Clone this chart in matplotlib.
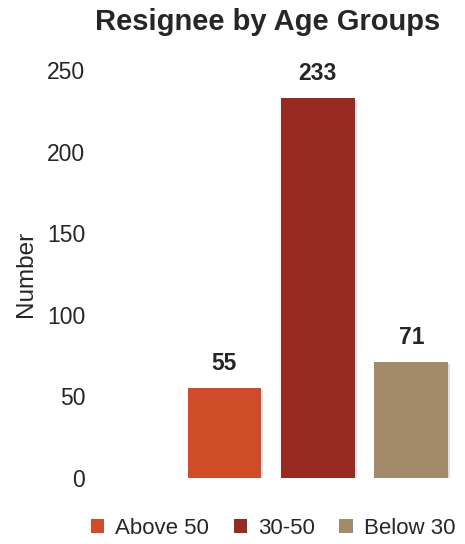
import matplotlib.pyplot as plt
import matplotlib.patheffects as pe
from matplotlib.patches import Patch

plt.rcParams['font.family'] = ['Liberation Sans', 'DejaVu Sans']
plt.rcParams['text.color'] = '#262626'
plt.rcParams['axes.labelcolor'] = '#262626'
plt.rcParams['ytick.color'] = '#262626'

groups = ['Above 50', '30-50', 'Below 30']
counts = [55, 233, 71]
colors = ['#D04B27', '#992A22', '#A38A69']
positions = [1, 2, 3]

fig = plt.figure(figsize=(4.65, 5.44), dpi=100)
ax = fig.add_axes([95/465, 66/544, 365/465, 408/544])

bars = ax.bar(positions, counts, width=0.79, color=colors)
for b in bars:
    b.set_path_effects([pe.SimplePatchShadow(offset=(1.5, -1.5), alpha=0.25, shadow_rgbFace='gray'), pe.Normal()])

# value labels above bars
for p, c in zip(positions, counts):
    ax.text(p, c + 8, str(c), ha='center', va='bottom', fontsize=16.5, fontweight='bold')

ax.set_xlim(-0.385, 3.52)
ax.set_ylim(0, 250)
ax.set_yticks([0, 50, 100, 150, 200, 250])
ax.set_xticks([])
ax.tick_params(axis='y', length=0, labelsize=16.5, pad=7)
for s in ax.spines.values():
    s.set_visible(False)
ax.set_ylabel('Number', fontsize=17.5)
ax.yaxis.set_label_coords(-0.16, 0.5)

fig.text(268/465, 1 - 22/544, 'Resignee by Age Groups', ha='center', va='center',
         fontsize=21, fontweight='bold')

handles = [Patch(facecolor=c, edgecolor='none') for c in colors]
fig.legend(handles, groups, loc='center', bbox_to_anchor=(273/465, 1 - 528/544), ncol=3,
           frameon=False, fontsize=16, handlelength=0.6, handleheight=0.6,
           handletextpad=0.5, columnspacing=1.1)

fig.savefig('out.png', dpi=100)
